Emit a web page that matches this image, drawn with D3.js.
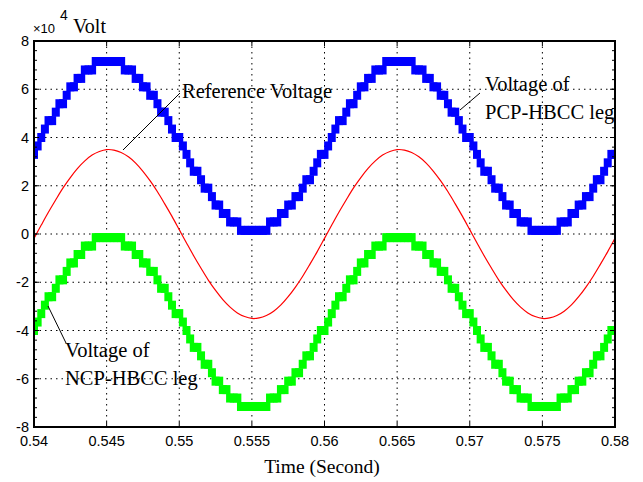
<!DOCTYPE html>
<html>
<head>
<meta charset="utf-8">
<script src="https://d3js.org/d3.v7.min.js"></script>
<style>body{margin:0;background:#fff;}</style>
</head>
<body>
<svg width="643" height="482"></svg>
<script>
// time axis (seconds), values in x10^4 Volt
var xTicks = [0.54, 0.545, 0.55, 0.555, 0.56, 0.565, 0.57, 0.575, 0.58];
var xTickLabels = ["0.54", "0.545", "0.55", "0.555", "0.56", "0.565", "0.57", "0.575", "0.58"];
var yTicks = [-8, -6, -4, -2, 0, 2, 4, 6, 8];
var yTickLabels = ["-8", "-6", "-4", "-2", "0", "2", "4", "6", "8"];

var tStart = 0.54, refStep = 0.0005, legStep = 0.00025;

// red reference, one sample each 0.5 ms
var referenceVoltage = [
	-0.18, 0.37, 0.91, 1.42, 1.91, 2.34, 2.72, 3.03, 3.27, 3.42,
	3.50, 3.48, 3.38, 3.20, 2.94, 2.60, 2.20, 1.75, 1.25, 0.73,
	0.18, -0.37, -0.91, -1.42, -1.91, -2.34, -2.72, -3.03, -3.27, -3.42,
	-3.50, -3.48, -3.38, -3.20, -2.94, -2.60, -2.20, -1.75, -1.25, -0.73,
	-0.18, 0.37, 0.91, 1.42, 1.91, 2.34, 2.72, 3.03, 3.27, 3.42,
	3.50, 3.48, 3.38, 3.20, 2.94, 2.60, 2.20, 1.75, 1.25, 0.73,
	0.18, -0.37, -0.91, -1.42, -1.91, -2.34, -2.72, -3.03, -3.27, -3.42,
	-3.50, -3.48, -3.38, -3.20, -2.94, -2.60, -2.20, -1.75, -1.25, -0.73,
	-0.18
];

// blue staircase, one sample each 0.25 ms
var pcpLeg = [
	3.3, 3.65, 4.0, 4.35, 4.7, 4.7, 5.05, 5.4, 5.4, 5.75,
	6.1, 6.1, 6.45, 6.45, 6.8, 6.8, 6.8, 7.15, 7.15, 7.15,
	7.15, 7.15, 7.15, 7.15, 7.15, 6.8, 6.8, 6.8, 6.45, 6.45,
	6.1, 6.1, 5.75, 5.75, 5.4, 5.05, 5.05, 4.7, 4.35, 4.0,
	4.0, 3.65, 3.3, 2.95, 2.6, 2.6, 2.25, 1.9, 1.9, 1.55,
	1.2, 1.2, 0.85, 0.85, 0.5, 0.5, 0.5, 0.15, 0.15, 0.15,
	0.15, 0.15, 0.15, 0.15, 0.15, 0.5, 0.5, 0.5, 0.85, 0.85,
	1.2, 1.2, 1.55, 1.55, 1.9, 2.25, 2.25, 2.6, 2.95, 3.3,
	3.3, 3.65, 4.0, 4.35, 4.7, 4.7, 5.05, 5.4, 5.4, 5.75,
	6.1, 6.1, 6.45, 6.45, 6.8, 6.8, 6.8, 7.15, 7.15, 7.15,
	7.15, 7.15, 7.15, 7.15, 7.15, 6.8, 6.8, 6.8, 6.45, 6.45,
	6.1, 6.1, 5.75, 5.75, 5.4, 5.05, 5.05, 4.7, 4.35, 4.0,
	4.0, 3.65, 3.3, 2.95, 2.6, 2.6, 2.25, 1.9, 1.9, 1.55,
	1.2, 1.2, 0.85, 0.85, 0.5, 0.5, 0.5, 0.15, 0.15, 0.15,
	0.15, 0.15, 0.15, 0.15, 0.15, 0.5, 0.5, 0.5, 0.85, 0.85,
	1.2, 1.2, 1.55, 1.55, 1.9, 2.25, 2.25, 2.6, 2.95, 3.3,
	3.3
];

// green staircase, one sample each 0.25 ms
var ncpLeg = [
	-4.0, -3.65, -3.3, -2.95, -2.6, -2.6, -2.25, -1.9, -1.9, -1.55,
	-1.2, -1.2, -0.85, -0.85, -0.5, -0.5, -0.5, -0.15, -0.15, -0.15,
	-0.15, -0.15, -0.15, -0.15, -0.15, -0.5, -0.5, -0.5, -0.85, -0.85,
	-1.2, -1.2, -1.55, -1.55, -1.9, -2.25, -2.25, -2.6, -2.95, -3.3,
	-3.3, -3.65, -4.0, -4.35, -4.7, -4.7, -5.05, -5.4, -5.4, -5.75,
	-6.1, -6.1, -6.45, -6.45, -6.8, -6.8, -6.8, -7.15, -7.15, -7.15,
	-7.15, -7.15, -7.15, -7.15, -7.15, -6.8, -6.8, -6.8, -6.45, -6.45,
	-6.1, -6.1, -5.75, -5.75, -5.4, -5.05, -5.05, -4.7, -4.35, -4.0,
	-4.0, -3.65, -3.3, -2.95, -2.6, -2.6, -2.25, -1.9, -1.9, -1.55,
	-1.2, -1.2, -0.85, -0.85, -0.5, -0.5, -0.5, -0.15, -0.15, -0.15,
	-0.15, -0.15, -0.15, -0.15, -0.15, -0.5, -0.5, -0.5, -0.85, -0.85,
	-1.2, -1.2, -1.55, -1.55, -1.9, -2.25, -2.25, -2.6, -2.95, -3.3,
	-3.3, -3.65, -4.0, -4.35, -4.7, -4.7, -5.05, -5.4, -5.4, -5.75,
	-6.1, -6.1, -6.45, -6.45, -6.8, -6.8, -6.8, -7.15, -7.15, -7.15,
	-7.15, -7.15, -7.15, -7.15, -7.15, -6.8, -6.8, -6.8, -6.45, -6.45,
	-6.1, -6.1, -5.75, -5.75, -5.4, -5.05, -5.05, -4.7, -4.35, -4.0,
	-4.0
];

var svg = d3.select("svg"),
	margin = { top: 41, right: 28, bottom: 55, left: 34 },
	W = 643, H = 482;

var x = d3.scaleLinear().domain([0.54, 0.58]).range([margin.left, W - margin.right]);
var y = d3.scaleLinear().domain([-8, 8]).range([H - margin.bottom, margin.top]);

svg.append("rect").attr("width", W).attr("height", H).attr("fill", "#fff");

svg.append("clipPath").attr("id", "plot")
	.append("rect")
	.attr("x", x(0.54)).attr("y", y(8))
	.attr("width", x(0.58) - x(0.54)).attr("height", y(-8) - y(8));

// dotted grid
var grid = svg.append("g").attr("stroke", "#000").attr("stroke-width", 1)
	.attr("stroke-dasharray", "1.5,4");
grid.selectAll(".gx").data(xTicks.slice(1, -1)).enter().append("line")
	.attr("x1", d => x(d)).attr("x2", d => x(d))
	.attr("y1", y(8)).attr("y2", y(-8));
grid.selectAll(".gy").data(yTicks.slice(1, -1)).enter().append("line")
	.attr("x1", x(0.54)).attr("x2", x(0.58))
	.attr("y1", d => y(d)).attr("y2", d => y(d));

var plot = svg.append("g").attr("clip-path", "url(#plot)");

function legPoints(vals) {
	return vals.map(function (v, i) { return { t: tStart + i * legStep, v: v }; });
}

// staircases drawn as square markers
[[pcpLeg, "#0000ff"], [ncpLeg, "#00ff00"]].forEach(function (s) {
	plot.append("g").attr("fill", s[1])
		.selectAll("rect")
		.data(legPoints(s[0]))
		.enter().append("rect")
		.attr("x", d => x(d.t) - 4)
		.attr("y", d => y(d.v) - 4.5)
		.attr("width", 8)
		.attr("height", 9);
});

var refPts = referenceVoltage.map(function (v, i) { return [tStart + i * refStep, v]; });
plot.append("path")
	.datum(refPts)
	.attr("fill", "none")
	.attr("stroke", "#ff0000")
	.attr("stroke-width", 1.2)
	.attr("d", d3.line().x(d => x(d[0])).y(d => y(d[1])).curve(d3.curveCatmullRom));

// axes box and ticks
var ax = svg.append("g").attr("stroke", "#000");
ax.append("rect")
	.attr("x", x(0.54)).attr("y", y(8))
	.attr("width", x(0.58) - x(0.54)).attr("height", y(-8) - y(8))
	.attr("fill", "none").attr("stroke-width", 2);

xTicks.forEach(function (d) {
	ax.append("line").attr("x1", x(d)).attr("x2", x(d)).attr("y1", y(-8)).attr("y2", y(-8) - 5);
	ax.append("line").attr("x1", x(d)).attr("x2", x(d)).attr("y1", y(8)).attr("y2", y(8) + 5);
});
yTicks.forEach(function (d) {
	ax.append("line").attr("x1", x(0.54)).attr("x2", x(0.54) + 5).attr("y1", y(d)).attr("y2", y(d));
	ax.append("line").attr("x1", x(0.58)).attr("x2", x(0.58) - 5).attr("y1", y(d)).attr("y2", y(d));
});
var minorY = d3.range(-8, 8.01, 0.4);
minorY.forEach(function (d) {
	ax.append("line").attr("x1", x(0.54)).attr("x2", x(0.54) + 3).attr("y1", y(d)).attr("y2", y(d));
	ax.append("line").attr("x1", x(0.58)).attr("x2", x(0.58) - 3).attr("y1", y(d)).attr("y2", y(d));
});

var sans = "'Liberation Sans', Arial, sans-serif",
	serif = "'Liberation Serif', 'Times New Roman', serif";

svg.append("g").selectAll("text").data(xTicks).enter().append("text")
	.attr("x", d => x(d)).attr("y", y(-8) + 19)
	.attr("text-anchor", "middle")
	.attr("font-family", sans).attr("font-size", 14.5)
	.text((d, i) => xTickLabels[i]);

svg.append("g").selectAll("text").data(yTicks).enter().append("text")
	.attr("x", x(0.54) - 5).attr("y", d => y(d) + 5)
	.attr("text-anchor", "end")
	.attr("font-family", sans).attr("font-size", 14.5)
	.text((d, i) => yTickLabels[i]);

svg.append("text").attr("x", 33).attr("y", 33)
	.attr("font-family", sans).attr("font-size", 13).text("×10");
svg.append("text").attr("x", 60).attr("y", 20)
	.attr("font-family", sans).attr("font-size", 14).text("4");
svg.append("text").attr("x", 73).attr("y", 33)
	.attr("font-family", serif).attr("font-size", 20).text("Volt");

svg.append("text").attr("x", 322).attr("y", 473)
	.attr("text-anchor", "middle")
	.attr("font-family", serif).attr("font-size", 19.5).text("Time (Second)");

// annotations
var notes = svg.append("g").attr("font-family", serif).attr("font-size", 20.5);
notes.append("text").attr("x", 182).attr("y", 98).text("Reference Voltage");
notes.append("text").attr("x", 485).attr("y", 91).text("Voltage of");
notes.append("text").attr("x", 485).attr("y", 119).text("PCP-HBCC leg");
notes.append("text").attr("x", 65).attr("y", 357).text("Voltage of");
notes.append("text").attr("x", 65).attr("y", 385).text("NCP-HBCC leg");

var arrows = svg.append("g").attr("stroke", "#000").attr("stroke-width", 1);
arrows.append("line").attr("x1", 180).attr("y1", 93).attr("x2", 123).attr("y2", 150);
arrows.append("line").attr("x1", 480).attr("y1", 93).attr("x2", 460).attr("y2", 110);
arrows.append("line").attr("x1", 48).attr("y1", 306).attr("x2", 66).attr("y2", 343);
</script>
</body>
</html>
